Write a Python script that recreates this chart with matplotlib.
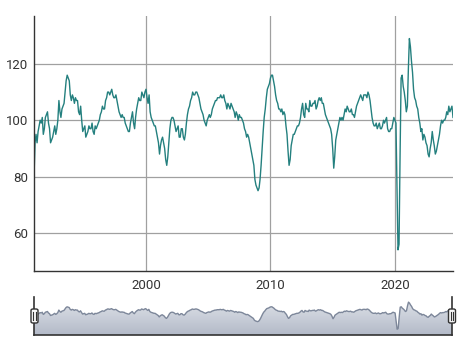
import numpy as np
import pandas as pd
import matplotlib
matplotlib.use("Agg")
import matplotlib.pyplot as plt
from matplotlib.patches import FancyBboxPatch, Polygon

# monthly index values, Jan 1991 .. Sep 2024
values = [
    80, 92, 95, 92, 96, 98, 100, 99, 101, 95, 97, 101,          # 1991
    102, 103, 99, 97, 92, 93, 94, 96, 98, 95, 97, 100,          # 1992
    107, 103, 101, 104, 105, 106, 110, 114, 116, 115, 114, 109, # 1993
    107, 109, 108, 106, 108, 107, 107, 103, 102, 105, 100, 96,  # 1994
    97, 98, 94, 95, 96, 98, 97, 97, 99, 96, 95, 98,             # 1995
    97, 98, 99, 100, 102, 103, 105, 104, 104, 107, 108, 110,    # 1996
    110, 109, 110, 111, 109, 108, 108, 109, 107, 105, 103, 102, # 1997
    101, 102, 101, 101, 99, 98, 97, 96, 96, 99, 101, 103,       # 1998
    99, 97, 101, 104, 106, 108, 107, 107, 110, 109, 108, 110,   # 1999
    111, 108, 106, 109, 103, 101, 100, 99, 98, 98, 96, 94,      # 2000
    92, 88, 91, 93, 94, 92, 90, 86, 84, 87, 92, 97,             # 2001
    100, 101, 101, 100, 98, 96, 97, 98, 94, 94, 97, 97,         # 2002
    94, 93, 95, 99, 102, 104, 105, 107, 108, 110, 109, 109,     # 2003
    110, 110, 109, 108, 106, 104, 103, 102, 100, 99, 98, 100,   # 2004
    101, 102, 101, 102, 104, 105, 106, 107, 107, 108, 108, 108, # 2005
    109, 108, 108, 109, 107, 106, 104, 106, 105, 104, 106, 105, # 2006
    104, 103, 101, 103, 102, 100, 102, 101, 101, 100, 99, 97,   # 2007
    96, 94, 95, 94, 92, 90, 88, 86, 84, 79, 77, 76,             # 2008
    75, 76, 79, 84, 90, 96, 101, 104, 108, 111, 112, 113,       # 2009
    115, 116, 116, 114, 112, 109, 107, 106, 104, 104, 103, 104, # 2010
    102, 103, 102, 98, 95, 89, 84, 86, 91, 93, 95, 95,          # 2011
    96, 97, 98, 98, 99, 101, 104, 106, 102, 101, 106, 104,      # 2012
    104, 103, 107, 105, 105, 106, 106, 107, 104, 105, 107, 108, # 2013
    107, 108, 106, 106, 104, 102, 101, 100, 99, 98, 97, 95,     # 2014
    90, 83, 87, 93, 95, 97, 99, 101, 100, 101, 100, 102,        # 2015
    104, 103, 105, 104, 103, 103, 104, 102, 102, 101, 103, 105, # 2016
    106, 107, 108, 109, 108, 107, 109, 109, 109, 108, 110, 109, # 2017
    107, 104, 101, 99, 98, 98, 99, 97, 98, 99, 97, 97,          # 2018
    98, 100, 99, 100, 101, 97, 96, 96, 97, 97, 99, 101,         # 2019
    100, 99, 78, 54, 56, 88, 115, 116, 112, 110, 107, 103,      # 2020
    105, 119, 129, 126, 121, 117, 111, 108, 107, 105, 104, 101, # 2021
    99, 96, 97, 93, 95, 94, 92, 91, 88, 87, 90, 92,             # 2022
    96, 93, 91, 88, 89, 91, 93, 95, 98, 100, 99, 100,           # 2023
    100, 101, 103, 102, 105, 103, 104, 105, 101,                # 2024
]
start_month = "1991-01-01"
y_ticks = [60, 80, 100, 120]
x_tick_years = [2000, 2010, 2020]

dates = pd.date_range(start_month, periods=len(values), freq="MS")
vals = np.array(values, dtype=float)

plt.rcParams["font.family"] = ["Roboto", "DejaVu Sans"]

W, H = 477, 359
fig = plt.figure(figsize=(W / 100, H / 100), dpi=100)

# main chart
ax = fig.add_axes([34 / W, (H - 271) / H, 419 / W, 255 / H])
ax.plot(dates, vals, color="#24807f", lw=1.0)
ax.set_xlim(dates[0], dates[-1])
ax.set_ylim(46.5, 137)
ax.set_yticks(y_ticks)
ax.set_xticks([pd.Timestamp(f"{y}-01-01") for y in x_tick_years])
ax.set_xticklabels([str(y) for y in x_tick_years])
ax.grid(True, color="#a0a0a0", lw=0.9)
ax.set_axisbelow(True)
for s in ["top", "right"]:
    ax.spines[s].set_visible(False)
for s in ["left", "bottom"]:
    ax.spines[s].set_color("#333333")
    ax.spines[s].set_linewidth(1.0)
ax.tick_params(axis="both", length=0, labelsize=9.5, labelcolor="#333333")
ax.tick_params(axis="y", pad=4)
ax.tick_params(axis="x", pad=6)

# navigator
nav = fig.add_axes([34 / W, (H - 335) / H, 418 / W, 38.3 / H])
nav.set_xlim(dates[0], dates[-1])
nav.set_ylim(38, 144)
xnum = matplotlib.dates.date2num(dates)
grad = np.linspace(0, 1, 100).reshape(-1, 1)
img = nav.imshow(grad, cmap=matplotlib.colors.LinearSegmentedColormap.from_list(
    "nav", ["#b3bac8", "#e3e6ec"]), aspect="auto", origin="lower",
    extent=[xnum[0], xnum[-1], 38, 144], zorder=1)
poly = Polygon(np.column_stack([np.r_[xnum[0], xnum, xnum[-1]],
                                np.r_[38, vals, 38]]), closed=True,
               transform=nav.transData, facecolor="none", edgecolor="none")
nav.add_patch(poly)
img.set_clip_path(poly)
nav.plot(dates, vals, color="#7d879a", lw=1.0, zorder=2)
nav.set_xticks([])
nav.set_yticks([])
nav.spines["top"].set_visible(False)
for s in ["left", "right", "bottom"]:
    nav.spines[s].set_color("#333333")
    nav.spines[s].set_linewidth(1.2)

# navigator handles
for cx in [34.5, 452]:
    box = FancyBboxPatch(((cx - 3.5) / W, (H - 323) / H), 7 / W, 14 / H,
                         boxstyle="round,pad=0,rounding_size=0.004",
                         transform=fig.transFigure, facecolor="#f7f7f7",
                         edgecolor="#333333", lw=1.0, zorder=5)
    fig.add_artist(box)
    for dx in [-1.2, 1.2]:
        fig.add_artist(plt.Line2D([(cx + dx) / W] * 2,
                                  [(H - 320) / H, (H - 312) / H],
                                  transform=fig.transFigure,
                                  color="#333333", lw=0.8, zorder=6))

fig.savefig("out.png", dpi=100)
